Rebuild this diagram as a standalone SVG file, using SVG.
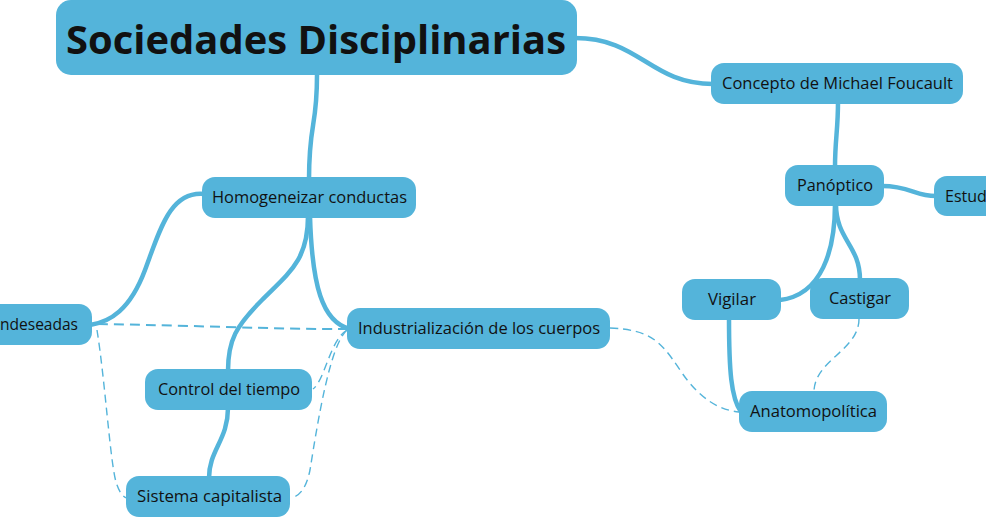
<svg xmlns="http://www.w3.org/2000/svg" width="986" height="518" viewBox="0 0 986 518">
<style>
.n{fill:#54b4da}
.t{font-family:"Open Sans","Noto Sans","DejaVu Sans",sans-serif;font-size:16px;fill:#111;text-anchor:middle}
.s{fill:none;stroke:#54b4da;stroke-width:4.5;stroke-linecap:round}
.d{fill:none;stroke:#54b4da;stroke-width:1.4;stroke-dasharray:8 5}
.d2{fill:none;stroke:#54b4da;stroke-width:2;stroke-dasharray:10 6}
</style>
<rect width="986" height="518" fill="#fff"/>
<g id="connectors">
<path class="s" d="M317,75 C317,130 309,120 309,180"/>
<path class="s" d="M575,38 C640,38 650,84 713,84"/>
<path class="s" d="M205,194 C170,190 160,230 145,270 C130,310 110,322 90,325"/>
<path class="s" d="M308,216 C308,260 290,272 262,300 C236,326 228,340 228,371"/>
<path class="s" d="M310,216 C312,285 322,322 350,329"/>
<path class="s" d="M228,408 C228,440 209,450 209,478"/>
<path class="s" d="M838,102 C838,130 835,140 835,167"/>
<path class="s" d="M882,186 C910,186 915,196 936,196"/>
<path class="s" d="M835,204 C835,250 822,295 780,300"/>
<path class="s" d="M836,204 C836,240 860,245 860,280"/>
<path class="s" d="M729,318 C729,370 731,398 741,412"/>
<path class="d2" d="M82,324 C150,324 300,330 347,329"/>
<path class="d" d="M97,330 C105,380 110,460 116,482 C119,492 123,497 127,498"/>
<path class="d" d="M347,330 C330,340 325,380 313,389"/>
<path class="d" d="M347,330 C330,345 318,420 310,470 C306,490 298,497 292,497"/>
<path class="d" d="M610,328 C650,330 660,340 680,370 C700,400 720,410 739,412"/>
<path class="d" d="M859,319 C859,350 815,360 814,391"/>
</g>
<g id="n-title"><rect class="n" x="56" y="0" width="521" height="75" rx="15"/><text x="316" y="54" style="font-family:'Open Sans','Noto Sans',sans-serif;font-weight:bold;font-size:39px;fill:#111;text-anchor:middle" textLength="500" lengthAdjust="spacingAndGlyphs">Sociedades Disciplinarias</text></g>
<g id="n-homog"><rect class="n" x="202" y="177" width="214" height="41" rx="13"/><text class="t" x="309.5" y="203" textLength="195" lengthAdjust="spacingAndGlyphs">Homogeneizar conductas</text></g>
<g id="n-indes"><rect class="n" x="-20" y="304" width="112" height="41" rx="13"/><text class="t" x="39" y="330" textLength="78" lengthAdjust="spacingAndGlyphs">ndeseadas</text></g>
<g id="n-indus"><rect class="n" x="347" y="308" width="263" height="41" rx="13"/><text class="t" x="479" y="334" textLength="242" lengthAdjust="spacingAndGlyphs">Industrialización de los cuerpos</text></g>
<g id="n-control"><rect class="n" x="145" y="369" width="167" height="41" rx="13"/><text class="t" x="229" y="395" textLength="142" lengthAdjust="spacingAndGlyphs">Control del tiempo</text></g>
<g id="n-sistema"><rect class="n" x="126" y="476" width="164" height="41" rx="13"/><text class="t" x="209.5" y="502" textLength="145" lengthAdjust="spacingAndGlyphs">Sistema capitalista</text></g>
<g id="n-concepto"><rect class="n" x="711" y="63" width="252" height="41" rx="13"/><text class="t" x="837.5" y="89" textLength="231" lengthAdjust="spacingAndGlyphs">Concepto de Michael Foucault</text></g>
<g id="n-panoptico"><rect class="n" x="785" y="165" width="99" height="41" rx="13"/><text class="t" x="835" y="191" textLength="76" lengthAdjust="spacingAndGlyphs">Panóptico</text></g>
<g id="n-estud"><rect class="n" x="934" y="176" width="70" height="40" rx="13"/><text x="945" y="202" style="font-family:'Open Sans','Noto Sans',sans-serif;font-size:16px;fill:#111">Estud</text></g>
<g id="n-vigilar"><rect class="n" x="682" y="279" width="99" height="41" rx="13"/><text class="t" x="732" y="305" textLength="48" lengthAdjust="spacingAndGlyphs">Vigilar</text></g>
<g id="n-castigar"><rect class="n" x="810" y="278" width="99" height="41" rx="13"/><text class="t" x="860" y="304" textLength="62" lengthAdjust="spacingAndGlyphs">Castigar</text></g>
<g id="n-anatomo"><rect class="n" x="739" y="391" width="148" height="41" rx="13"/><text class="t" x="813.5" y="417" textLength="127" lengthAdjust="spacingAndGlyphs">Anatomopolítica</text></g>
</svg>
